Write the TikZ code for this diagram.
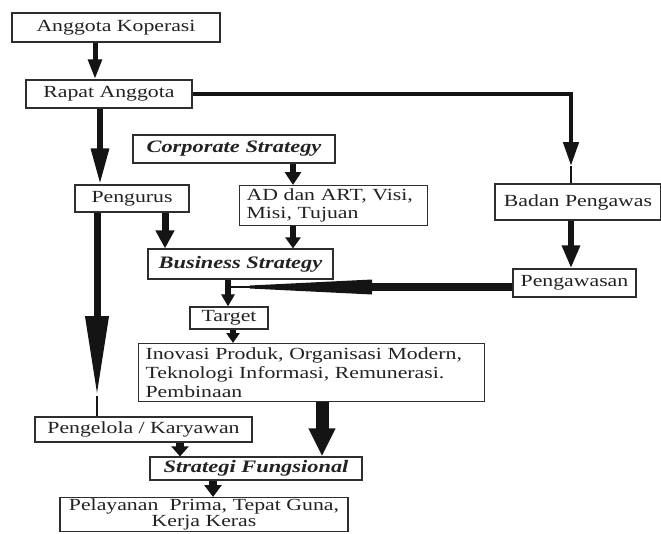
\documentclass[tikz,border=0pt]{standalone}
\usepackage{fontspec}
\setmainfont{Liberation Serif}[FakeStretch=1.28]
\usetikzlibrary{arrows.meta}
\definecolor{ink}{HTML}{222222}
\definecolor{edge}{HTML}{2E2E2E}
\definecolor{pipe}{HTML}{141414}
\begin{document}
\begin{tikzpicture}[x=1pt,y=-1pt,
  box/.style={draw=edge, line width=1.2pt, inner sep=0pt, text=ink,
              font=\fontsize{17}{19}\selectfont},
  bi/.style={font=\fontsize{17.5}{19}\selectfont\bfseries\itshape},
  flow/.style={draw=pipe, line width=#1, line join=miter},
  tail/.style={draw=pipe, line width=1.8pt}
]
\useasboundingbox (0,0) rectangle (661,533);
\fill[white] (0,0) rectangle (661,533);
\clip (0,0) rectangle (661,533);

% columns of the vertical connectors
\coordinate (ax1) at (95,0);
\coordinate (ax2) at (100,0);
\coordinate (ax3) at (97,0);
\coordinate (ax4) at (165,0);
\coordinate (ax5) at (293,0);
\coordinate (ax6) at (571,0);
\coordinate (ax7) at (228,0);
\coordinate (ax8) at (233,0);
\coordinate (ax9) at (322,0);
\coordinate (ax10) at (180,0);
\coordinate (ax11) at (213,0);

% boxes
\node[box, minimum width=208, minimum height=29] (koperasi) at (116,27.5) {Anggota Koperasi};
\node[box, minimum width=166, minimum height=28] (rapat) at (109,94) {Rapat Anggota};
\node[box, bi, minimum width=202, minimum height=28] (corporate) at (234,149) {Corporate Strategy};
\node[box, minimum width=114, minimum height=27] (pengurus) at (132,198.5) {Pengurus};
\node[box, anchor=north west, text width=174, inner xsep=7, minimum height=40, align=left,
      font=\fontsize{17}{17.5}\selectfont] (ad) at (239,185) {AD dan ART, Visi,\\Misi, Tujuan};
\node[box, minimum width=166, minimum height=36] (badan) at (578,202) {Badan Pengawas};
\path (badan.north west) ++(-2,0) coordinate (bnw);
\node[box, bi, minimum width=185, minimum height=30] (business) at (240.5,264) {Business Strategy};
\node[box, minimum width=123, minimum height=28] (pengawasan) at (574.5,283) {Pengawasan};
\node[box, minimum width=78, minimum height=22] (target) at (229,318) {Target};
\node[box, anchor=north west, text width=332, inner xsep=7, minimum height=58, align=left]
      (inovasi) at (138,343) {Inovasi Produk, Organisasi Modern,\\Teknologi Informasi, Remunerasi.\\Pembinaan};
\node[box, minimum width=217, minimum height=25] (pengelola) at (143.5,429.5) {Pengelola / Karyawan};
\node[box, bi, minimum width=212, minimum height=23] (fungsional) at (256,468.5) {Strategi Fungsional};
\node[box, anchor=north, text width=288, inner xsep=0, inner ysep=1, align=center,
      font=\fontsize{17}{16.5}\selectfont]
      (pelayanan) at (204,497) {Pelayanan\ \ Prima, Tepat Guna,\\Kerja Keras};

% connectors
\draw[flow=5pt, -{Triangle[length=20pt,width=13pt]}] (koperasi.south -| ax1) -- (rapat.north -| ax1);
\draw[flow=6pt, -{Triangle[length=36pt,width=17pt]}] (rapat.south -| ax2) -- (pengurus.north -| ax2);

% Rapat Anggota -> Badan Pengawas
\coordinate (bk) at (571,166);
\draw[flow=4.5pt, -{Triangle[length=24pt,width=15pt]}] (rapat.east) -| (bk);
\draw[tail] (bk) -- (badan.north -| bk);

\draw[flow=6pt, -{Triangle[length=13pt,width=16pt]}] (corporate.south -| ax5) -- (ad.north -| ax5);
\draw[flow=7pt, -{Triangle[length=18pt,width=18pt]}] (pengurus.south -| ax4) -- (business.north -| ax4);
\draw[flow=6pt, -{Triangle[length=11pt,width=15pt]}] (ad.south -| ax5) -- (business.north -| ax5);

% Pengurus -> Pengelola / Karyawan
\coordinate (pk) at (97,396);
\draw[flow=7pt, -{Triangle[length=80pt,width=22pt]}] (pengurus.south -| ax3) -- (pk);
\draw[tail] (pk) -- (pengelola.north -| pk);

\draw[flow=6pt, -{Triangle[length=23pt,width=17pt]}] (badan.south -| ax6) -- (pengawasan.north -| ax6);

% Pengawasan -> Business Strategy / Target, with a long tapered head
\coordinate (gb) at (372,287);
\coordinate (gk) at (250,287);
\draw[flow=8pt] (pengawasan.west |- gb) -- (gb);
\fill[pipe] ([yshift=-7.5]gb) -- ([yshift=-1.5]gk) -- ([yshift=1.5]gk) -- ([yshift=7.5]gb) -- cycle;
\draw[tail] (gk) -- (gk -| ax7);

\draw[flow=6pt, -{Triangle[length=12pt,width=13pt]}] (business.south -| ax7) -- (target.north -| ax7);
\draw[flow=6pt, -{Triangle[length=10pt,width=13pt]}] (target.south -| ax8) -- (inovasi.north -| ax8);
\draw[flow=13pt, -{Triangle[length=28pt,width=25pt]}] (inovasi.south -| ax9) -- (fungsional.north -| ax9);
\draw[flow=8pt, -{Triangle[length=10pt,width=17pt]}] (pengelola.south -| ax10) -- (fungsional.north -| ax10);
\draw[flow=8pt, -{Triangle[length=12pt,width=17pt]}] (fungsional.south -| ax11) -- (pelayanan.north -| ax11);
\end{tikzpicture}
\end{document}
